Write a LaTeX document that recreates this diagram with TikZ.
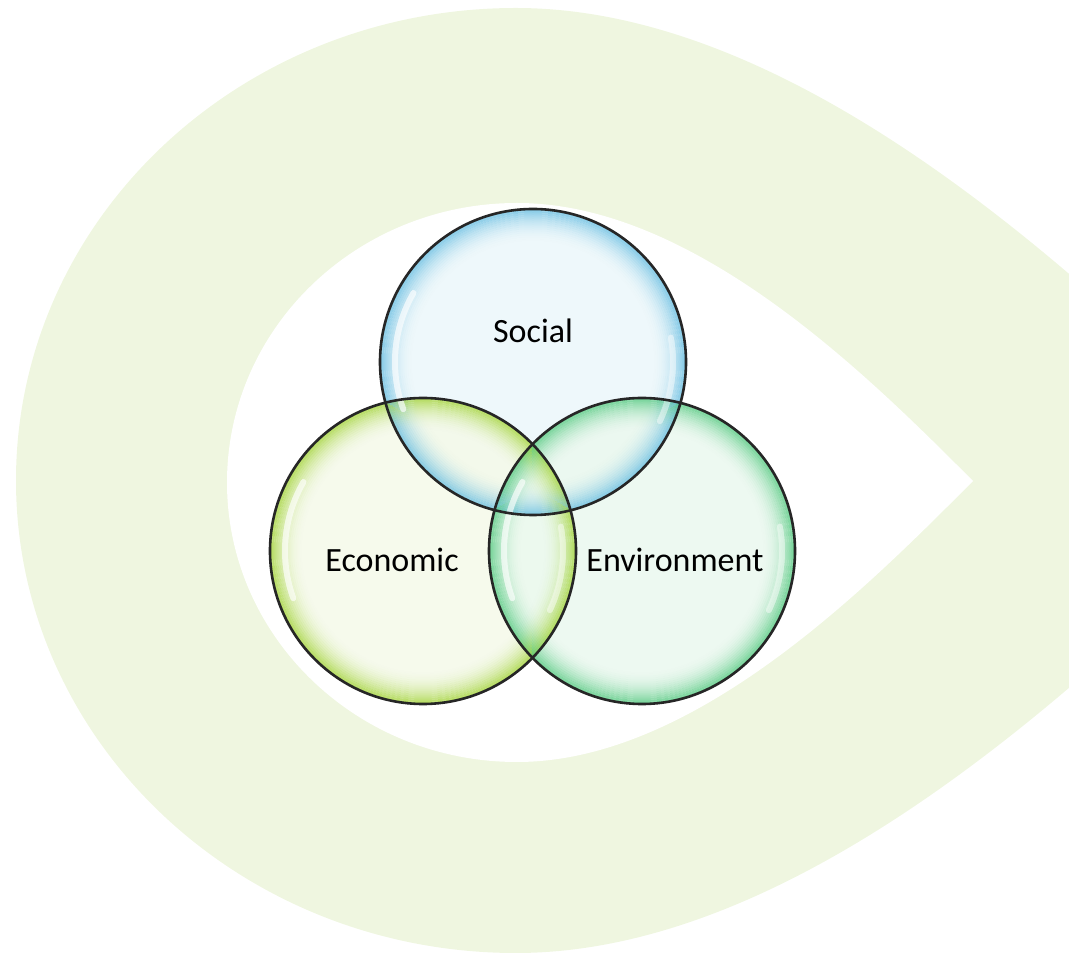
\documentclass[tikz,border=0pt]{standalone}
\usepackage{fontspec}
\setmainfont{Carlito}
\definecolor{leafbg}{RGB}{239,246,224}
\definecolor{socin}{RGB}{236,247,251}
\definecolor{socout}{RGB}{100,188,225}
\definecolor{ecoin}{RGB}{245,250,233}
\definecolor{ecoout}{RGB}{160,210,50}
\definecolor{envin}{RGB}{235,249,239}
\definecolor{envout}{RGB}{80,200,125}
\tikzset{
  bubble/.style={line width=2.6, draw=black!85},
  gloss/.style={white, line width=6, opacity=.65, line cap=round},
  vennlabel/.style={font=\fontsize{34}{40}\selectfont, anchor=base, text=black}
}
\begin{document}
\begin{tikzpicture}[x=1pt, y=1pt]
	\useasboundingbox (0,0) rectangle (1069,954);
	% leaf shape behind the circles
	\fill[leafbg] (1290,473) .. controls (1125,635) and (820,946) .. (516,946)
		arc[start angle=90, end angle=270, x radius=500, y radius=472.5]
		.. controls (820,1) and (1125,311) .. (1290,473) -- cycle;
	\fill[white] (973,473) .. controls (873,573) and (697,751) .. (517,751)
		arc[start angle=90, end angle=270, x radius=290, y radius=279.5]
		.. controls (697,192) and (873,373) .. (973,473) -- cycle;
	% circle centres
	\coordinate (soc) at (533,592);
	\coordinate (eco) at (423,403);
	\coordinate (env) at (642,403);
	\fill[socin, fill opacity=.85] (soc) circle[radius=153];
	\fill[ecoin, fill opacity=.85] (eco) circle[radius=153];
	\fill[envin, fill opacity=.85] (env) circle[radius=153];
	% coloured rims, fading inwards
	\foreach \k [evaluate=\k as \op using {0.75*(1-\k/16)^2},
	             evaluate=\k as \ra using {153-2*\k},
	             evaluate=\k as \rb using {151-2*\k}] in {0,...,15}{
		\fill[socout, fill opacity=\op, even odd rule] (soc) circle[radius=\ra] circle[radius=\rb];
		\fill[ecoout, fill opacity=\op, even odd rule] (eco) circle[radius=\ra] circle[radius=\rb];
		\fill[envout, fill opacity=\op, even odd rule] (env) circle[radius=\ra] circle[radius=\rb];
	}
	% gloss
	\draw[gloss] (soc) ++(150:138) arc[start angle=150, end angle=200, radius=138];
	\draw[gloss] (eco) ++(150:138) arc[start angle=150, end angle=200, radius=138];
	\draw[gloss] (env) ++(150:138) arc[start angle=150, end angle=200, radius=138];
	\draw[gloss, opacity=.45] (soc) ++(-25:140) arc[start angle=-25, end angle=10, radius=140];
	\draw[gloss, opacity=.45] (eco) ++(-25:140) arc[start angle=-25, end angle=10, radius=140];
	\draw[gloss, opacity=.45] (env) ++(-25:140) arc[start angle=-25, end angle=10, radius=140];
	% outlines
	\draw[bubble] (soc) circle[radius=153];
	\draw[bubble] (eco) circle[radius=153];
	\draw[bubble] (env) circle[radius=153];
	\node[vennlabel] (social) at (533,611) {Social};
	\node[vennlabel] (economic) at (392,382) {Economic};
	\node[vennlabel] (environment) at (675,382) {Environment};
\end{tikzpicture}
\end{document}
